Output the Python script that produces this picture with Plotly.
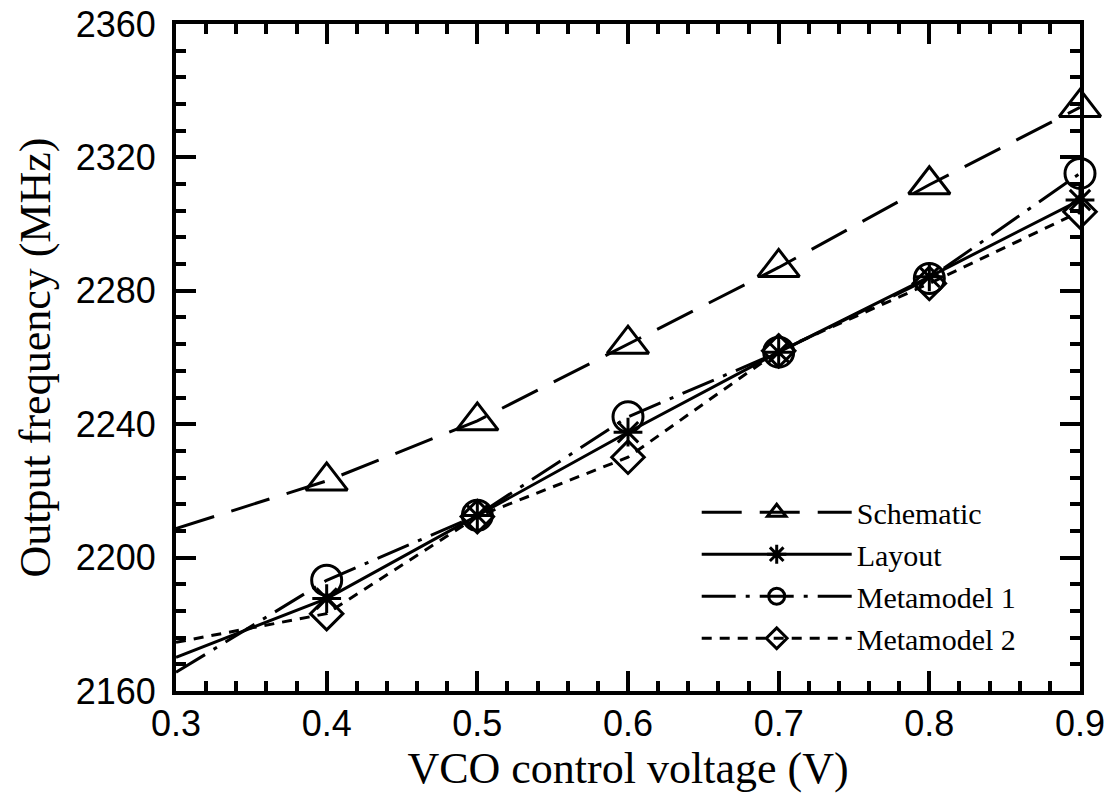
import plotly.graph_objects as go

voltage = [0.3, 0.4, 0.5, 0.6, 0.7, 0.8, 0.9]
schematic = [2208.7, 2223.0, 2241.0, 2264.0, 2287.0, 2311.8, 2335.0]
layout_vals = [2170.1, 2187.7, 2212.6, 2237.6, 2261.6, 2284.2, 2307.2]
metamodel1 = [2165.6, 2193.2, 2212.7, 2242.2, 2261.6, 2283.7, 2315.2]
metamodel2 = [2174.6, 2183.2, 2212.3, 2230.1, 2262.0, 2282.2, 2303.7]

series = [
    ("Schematic", schematic, "triangle-up-open", "40px,18px", 36),
    ("Layout", layout_vals, "asterisk-open", "solid", 24),
    ("Metamodel 1", metamodel1, "circle-open", "34px,10px,4px,10px", 30),
    ("Metamodel 2", metamodel2, "diamond-open", "10px,8px", 25),
]

fig = go.Figure()
for name, vals, sym, dash, size in series:
    sizes = [0] + [size] * (len(voltage) - 1)
    fig.add_trace(go.Scatter(
        x=voltage, y=vals, name=name, mode="lines+markers",
        line=dict(color="black", width=3, dash=dash),
        marker=dict(symbol=sym, size=sizes, color="black", opacity=1,
                    line=dict(color="black", width=3)),
        cliponaxis=False,
    ))

axis_common = dict(
    showline=True, linewidth=4, linecolor="black", mirror="allticks",
    ticks="inside", ticklen=20, tickwidth=4, tickcolor="black",
    showgrid=False, zeroline=False, automargin=False,
    tickfont=dict(family="Liberation Sans, Arial", size=36, color="black"),
)

fig.update_xaxes(
    range=[0.3, 0.9], tickvals=[0.3, 0.4, 0.5, 0.6, 0.7, 0.8, 0.9],
    ticktext=["0.3", "0.4", "0.5", "0.6", "0.7", "0.8", "0.9"],
    minor=dict(dtick=0.02, ticks="inside", ticklen=10, tickwidth=4, tickcolor="black"),
    title=dict(text="VCO control voltage (V)",
               font=dict(family="Liberation Serif, Times New Roman", size=44, color="black"),
               standoff=4),
    ticklabelstandoff=-2,
    **axis_common,
)
fig.update_yaxes(
    range=[2160, 2360], tickvals=[2160, 2200, 2240, 2280, 2320, 2360],
    minor=dict(dtick=8, ticks="inside", ticklen=10, tickwidth=4, tickcolor="black"),
    title=dict(text="Output frequency (MHz)",
               font=dict(family="Liberation Serif, Times New Roman", size=44, color="black"),
               standoff=12),
    ticklabelstandoff=9,
    **axis_common,
)

fig.update_layout(
    width=1107, height=800,
    margin=dict(l=176, r=27, t=24, b=109),
    plot_bgcolor="white", paper_bgcolor="white",
    showlegend=True,
    legend=dict(x=0.576, y=0.307, xanchor="left", yanchor="top",
                bgcolor="rgba(0,0,0,0)", borderwidth=0,
                font=dict(family="Liberation Serif, Times New Roman", size=30, color="black"),
                itemwidth=150, tracegroupgap=0),
)

fig.write_html(
    "out.html",
    config={"displayModeBar": False},
    post_script="document.body.style.margin='0';document.body.style.overflow='hidden';",
)
